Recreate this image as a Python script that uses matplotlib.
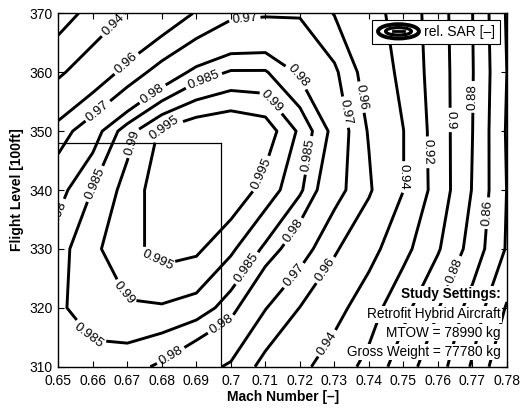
import numpy as np
import matplotlib
matplotlib.use("Agg")
import matplotlib.pyplot as plt
from matplotlib.patches import Ellipse
from matplotlib.legend_handler import HandlerBase
from matplotlib.lines import Line2D

plt.rcParams['font.family'] = ['Liberation Sans', 'DejaVu Sans']

# ---------------- data ----------------
mach = [0.65, 0.66, 0.67, 0.68, 0.69, 0.70, 0.71, 0.72, 0.73, 0.74, 0.75, 0.76, 0.77, 0.78]
flight_level = [310, 320, 330, 340, 350, 360, 370]

sar_fl310 = [0.9815, 0.9825, 0.982, 0.979, 0.9735, 0.9688, 0.9562, 0.945, 0.930, 0.9146, 0.888, 0.8685, 0.8375, 0.801]
sar_fl320 = [0.984, 0.988, 0.9895, 0.9895, 0.988, 0.9825, 0.9705, 0.9598, 0.947, 0.929, 0.906, 0.881, 0.852, 0.818]
sar_fl330 = [0.983, 0.989, 0.993, 0.997, 0.996, 0.991, 0.984, 0.975, 0.962, 0.947, 0.926, 0.902, 0.872, 0.838]
sar_fl340 = [0.978, 0.9852, 0.992, 0.998, 0.9995, 0.999, 0.993, 0.986, 0.974, 0.962, 0.9402, 0.912, 0.879, 0.8395]
sar_fl350 = [0.965, 0.977, 0.988, 0.996, 0.999, 1.000, 0.998, 0.989, 0.978, 0.959, 0.9402, 0.911, 0.8802, 0.838]
sar_fl360 = [0.937, 0.951, 0.964, 0.9745, 0.982, 0.9855, 0.9855, 0.979, 0.972, 0.954, 0.935, 0.910, 0.881, 0.8398]
sar_fl370 = [0.910, 0.927, 0.941, 0.951, 0.961, 0.968, 0.969, 0.9692, 0.9595, 0.947, 0.9325, 0.909, 0.8802, 0.838]

levels = [0.80, 0.82, 0.84, 0.86, 0.88, 0.90, 0.92, 0.94, 0.96, 0.97, 0.98, 0.985, 0.99, 0.995]

opt_mach = 0.697
opt_fl = 348

settings_title = "Study Settings:"
settings_lines = ["Retrofit Hybrid Aircraft", "MTOW = 78990 kg", "Gross Weight = 77780 kg"]

# ---------------- plot ----------------
Z = np.array([sar_fl310, sar_fl320, sar_fl330, sar_fl340, sar_fl350, sar_fl360, sar_fl370])
X, Y = np.meshgrid(mach, flight_level)

fig = plt.figure(figsize=(5.21, 4.08), dpi=100)
ax = fig.add_axes([0.1119, 0.1012, 0.8612, 0.8662])

cs = ax.contour(X, Y, Z, levels=levels, colors='black', linewidths=2.1)

label_pos = [
    (0.6659, 368.0), (0.6687, 362.1), (0.6612, 353.6), (0.6771, 356.5), (0.6919, 359.0),
    (0.6716, 348.0), (0.6803, 351.4), (0.7040, 369.0), (0.6612, 340.9), (0.6505, 333.5),
    (0.6772, 327.0), (0.6630, 320.6), (0.6554, 313.7), (0.6841, 310.4), (0.6963, 318.0),
    (0.7032, 327.3), (0.7104, 342.3), (0.7191, 359.2), (0.7113, 354.8), (0.7223, 345.9),
    (0.7330, 353.2), (0.7382, 355.8), (0.7489, 342.2), (0.7570, 346.4), (0.7648, 351.9),
    (0.7706, 355.8), (0.7735, 336.1), (0.7177, 333.2), (0.7180, 325.6), (0.7281, 326.1),
    (0.7293, 313.4), (0.7643, 326.4),
]
ax.clabel(cs, inline=True, fontsize=9.5, fmt=lambda v: f"{v:g}", manual=label_pos, inline_spacing=3)

ax.plot([opt_mach, opt_mach], [flight_level[0], opt_fl], color='black', lw=0.9)
ax.plot([mach[0], opt_mach], [opt_fl, opt_fl], color='black', lw=0.9)

ax.set_xlim(mach[0], mach[-1])
ax.set_ylim(flight_level[0], flight_level[-1])
ax.set_xticks(mach)
ax.set_xticklabels([f"{m:g}" for m in mach])
ax.set_yticks(flight_level)
ax.tick_params(direction='in', top=True, right=True, length=4, width=0.8, labelsize=10)
ax.tick_params(axis='x', pad=5)
ax.tick_params(axis='y', pad=4)
for s in ax.spines.values():
    s.set_linewidth(1.0)

ax.set_xlabel("Mach Number [\u2013]", fontsize=10, fontweight='bold', labelpad=2)
ax.set_ylabel("Flight Level [100ft]", fontsize=10, fontweight='bold', labelpad=4)

# legend with contour-like icon
class ContourHandler(HandlerBase):
    def create_artists(self, legend, orig_handle, xdescent, ydescent, width, height, fontsize, trans):
        cx = width / 2 - xdescent
        cy = height / 2 - ydescent
        arts = []
        for w, h, lw in [(width * 0.95, height * 1.15, 2.8), (width * 0.6, height * 0.6, 2.3)]:
            e = Ellipse((cx, cy), w, h, fill=False, edgecolor='black', lw=lw, transform=trans)
            arts.append(e)
        l = Line2D([cx - width * 0.12, cx + width * 0.12], [cy, cy], color='black', lw=2, transform=trans)
        arts.append(l)
        return arts

handle = Line2D([], [], color='black')
leg = ax.legend([handle], ["rel. SAR [\u2013]"], loc='upper right', handler_map={Line2D: ContourHandler()},
                fontsize=10, frameon=True, fancybox=False, edgecolor='black', framealpha=1,
                handlelength=3.1, handleheight=1.0, borderpad=0.35, handletextpad=0.3,
                borderaxespad=0.5)
leg.get_frame().set_linewidth(0.8)

# study settings text, each line with white background
tx = 0.985
ys = [0.205, 0.148, 0.096, 0.042]
texts = [settings_title] + settings_lines
for i, (t, y) in enumerate(zip(texts, ys)):
    ax.text(tx, y, t, transform=ax.transAxes, ha='right', va='center', fontsize=9.8,
            fontweight='bold' if i == 0 else 'normal',
            bbox=dict(facecolor='white', edgecolor='none', pad=1.0), zorder=5)

fig.savefig("out.png", dpi=100)
